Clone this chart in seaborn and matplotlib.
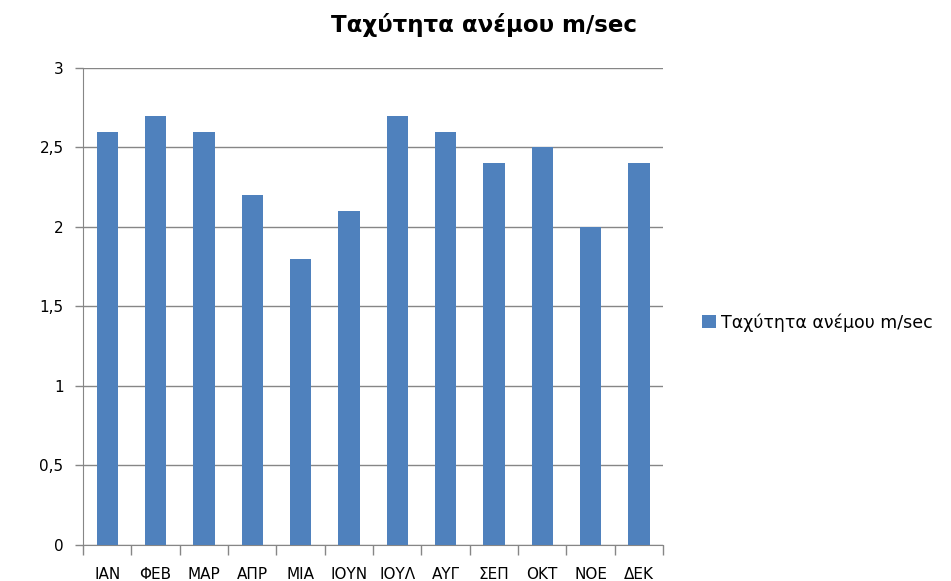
import matplotlib
matplotlib.use('Agg')
import matplotlib.pyplot as plt
import seaborn as sns
import pandas as pd
from matplotlib.ticker import FuncFormatter, MultipleLocator

# Données : vitesse du vent par mois
months = ['ΙΑΝ', 'ΦΕΒ', 'ΜΑΡ', 'ΑΠΡ', 'ΜΙΑ', 'ΙΟΥΝ', 'ΙΟΥΛ', 'ΑΥΓ', 'ΣΕΠ', 'ΟΚΤ', 'ΝΟΕ', 'ΔΕΚ']
wind_speed = [2.6, 2.7, 2.6, 2.2, 1.8, 2.1, 2.7, 2.6, 2.4, 2.5, 2.0, 2.4]
series_name = 'Ταχύτητα ανέμου m/sec'

df = pd.DataFrame({'Month': months, 'Speed': wind_speed})

sns.set_style('white')
plt.rcParams['font.family'] = ['DejaVu Sans']
plt.rcParams['text.color'] = 'black'
plt.rcParams['xtick.color'] = 'black'
plt.rcParams['ytick.color'] = 'black'

fig = plt.figure(figsize=(9.51, 5.81), dpi=100)
ax = fig.add_axes([0.0873, 0.062, 0.610, 0.821])

sns.barplot(data=df, x='Month', y='Speed', color='#4F81BD', saturation=1,
            width=0.44, label=series_name, ax=ax, zorder=3, linewidth=0)

handles, labels = ax.get_legend_handles_labels()
if ax.get_legend() is not None:
    ax.get_legend().remove()

ax.set_ylim(0, 3)
ax.set_xlim(-0.5, len(months) - 0.5)
ax.yaxis.set_major_locator(MultipleLocator(0.5))
ax.yaxis.set_major_formatter(FuncFormatter(lambda v, p: f'{v:g}'.replace('.', ',')))
ax.grid(axis='y', color='#868686', linewidth=1, zorder=0)
ax.set_xlabel('')
ax.set_ylabel('')

for side in ['top', 'right']:
    ax.spines[side].set_visible(False)
ax.spines['left'].set_color('#868686')
ax.spines['bottom'].set_color('#868686')

# Graduations entre les catégories sur l'axe x
ax.set_xticks([i - 0.5 for i in range(len(months) + 1)], minor=True)
ax.tick_params(axis='x', which='minor', bottom=True, length=7, color='#868686', width=1)
ax.tick_params(axis='x', which='major', bottom=True, length=0, pad=16, labelsize=11)
ax.tick_params(axis='y', length=6, color='#868686', width=1, labelsize=11, left=True, pad=8)

fig.text(484 / 951, 1 - 25 / 581, series_name, ha='center', va='center',
         fontsize=16.5, fontweight='bold')

fig.legend(handles, labels, loc='center left', bbox_to_anchor=(0.722, 0.445),
           frameon=False, fontsize=12.5, handlelength=0.8, handleheight=0.8,
           handletextpad=0.3)

fig.savefig('out.png', dpi=100)
